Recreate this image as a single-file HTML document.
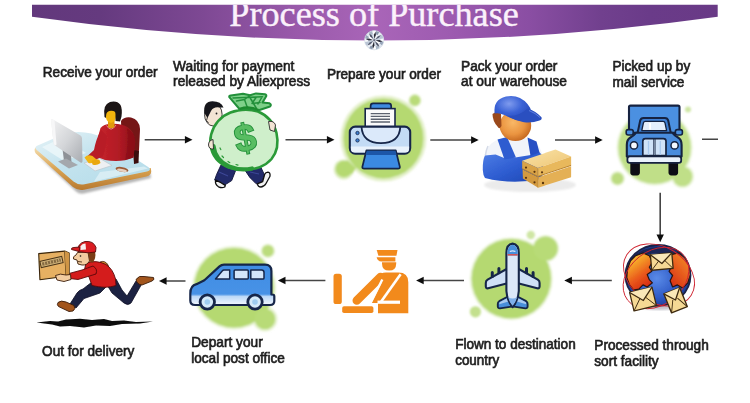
<!DOCTYPE html>
<html><head><meta charset="utf-8"><title>Process of Purchase</title>
<style>
html,body{margin:0;padding:0;background:#fff;}
body{width:750px;height:403px;overflow:hidden;position:relative;}
svg{position:absolute;left:0;top:0;display:block;}
.lbl{font-family:"Liberation Sans",Arial,sans-serif;font-size:15px;fill:#1f1f1f;stroke:#1f1f1f;stroke-width:.7px;}
.ttl{font-family:"Liberation Serif","Times New Roman",serif;font-size:36.500px;fill:#fbf1fb;stroke:#fbf1fb;stroke-width:.4px;}
.ar{stroke:#454545;stroke-width:1.6;fill:none;}
.ah{fill:#111;stroke:none;}
</style></head>
<body>
<svg width="750" height="403" viewBox="0 0 750 403">
<defs>
<linearGradient id="ban" x1="0" y1="0" x2="1" y2="0">
<stop offset="0" stop-color="#62387c"/><stop offset="0.1" stop-color="#653a7f"/><stop offset="0.245" stop-color="#7d4893"/><stop offset="0.39" stop-color="#9a5aab"/><stop offset="0.5" stop-color="#a965b8"/><stop offset="0.61" stop-color="#9d5bb0"/><stop offset="0.725" stop-color="#8a4ea3"/><stop offset="0.83" stop-color="#71408e"/><stop offset="0.9" stop-color="#6a3b89"/><stop offset="1" stop-color="#693a86"/>
</linearGradient>
<clipPath id="banclip"><path d="M32 4.7H717.7V16.7Q375 64.3 32 16.7Z"/></clipPath>
<filter id="soft" x="-10%" y="-10%" width="120%" height="120%"><feGaussianBlur stdDeviation="0.9"/></filter>
<filter id="tb" x="-2%" y="-20%" width="104%" height="140%"><feGaussianBlur stdDeviation="0.4"/></filter>
</defs>
<rect width="750" height="403" fill="#ffffff"/>
<!-- BANNER -->
<g id="banner">
<path d="M32 4.7H717.7V16.7Q375 64.3 32 16.7Z" fill="url(#ban)"/>
<g clip-path="url(#banclip)"><text class="ttl" x="229.300" y="25.700" textLength="289.500" lengthAdjust="spacingAndGlyphs">Process of Purchase</text></g>
</g>
<!-- LABELS -->
<g id="labels" filter="url(#tb)">
<text class="lbl" x="42.800" y="77.200" textLength="114.7" lengthAdjust="spacingAndGlyphs">Receive your order</text>
<text class="lbl" x="173.1" y="70.5" textLength="121.3" lengthAdjust="spacingAndGlyphs">Waiting for payment</text>
<text class="lbl" x="173.100" y="86.400" textLength="137" lengthAdjust="spacingAndGlyphs">released by Aliexpress</text>
<text class="lbl" x="326.900" y="78.600" textLength="114.1" lengthAdjust="spacingAndGlyphs">Prepare your order</text>
<text class="lbl" x="461.100" y="70.800" textLength="96.300" lengthAdjust="spacingAndGlyphs">Pack your order</text>
<text class="lbl" x="461.100" y="86.300" textLength="105.900" lengthAdjust="spacingAndGlyphs">at our warehouse</text>
<text class="lbl" x="612.400" y="71" textLength="77.800" lengthAdjust="spacingAndGlyphs">Picked up by</text>
<text class="lbl" x="612.400" y="86.600" textLength="71.900" lengthAdjust="spacingAndGlyphs">mail service</text>
<text class="lbl" x="42.100" y="355.600" textLength="92.3" lengthAdjust="spacingAndGlyphs">Out for delivery</text>
<text class="lbl" x="191.2" y="347.3" textLength="71.5" lengthAdjust="spacingAndGlyphs">Depart your</text>
<text class="lbl" x="191.2" y="363.2" textLength="93.6" lengthAdjust="spacingAndGlyphs">local post office</text>
<text class="lbl" x="455.200" y="348.900" textLength="120.500" lengthAdjust="spacingAndGlyphs">Flown to destination</text>
<text class="lbl" x="455.200" y="365.100" textLength="44" lengthAdjust="spacingAndGlyphs">country</text>
<text class="lbl" x="594.300" y="349.800" textLength="114.5" lengthAdjust="spacingAndGlyphs">Processed through</text>
<text class="lbl" x="594.300" y="365.800" textLength="64.4" lengthAdjust="spacingAndGlyphs">sort facility</text>
</g>
<filter id="ib" x="0" y="0" width="750" height="403" filterUnits="userSpaceOnUse"><feGaussianBlur stdDeviation="0.45"/></filter>
<g id="gfx" filter="url(#ib)">
<!-- ARROWS -->
<g id="arrows">
<path class="ar" d="M144.7 139.7H186M285.5 139.7H328M430.3 140H472M555 140H596M702 139.3H718M660.2 192.7V236M611.8 280.5H571M464 280.5H423M325.4 280.5H285M185.5 281H166"/>
<path class="ah" d="M192.5 139.7l-7.6-3.7v7.4zM334.5 139.7l-7.6-3.7v7.4zM478.7 140l-7.6-3.7v7.4zM602.7 140l-7.6-3.7v7.4zM660.2 242.2l-3.7-7.6h7.4zM564.3 280.5l7.6-3.7v7.4zM416.1 280.5l7.6-3.7v7.4zM277.9 280.5l7.6-3.7v7.4zM159 281l7.6-3.7v7.4z"/>
</g>
<!-- ICONS -->
<g id="ic1">
<defs>
<linearGradient id="desk1" x1="0" y1="0" x2="1" y2="1"><stop offset="0" stop-color="#e6f3f7"/><stop offset="0.45" stop-color="#c3e3ee"/><stop offset="1" stop-color="#b3dbe9"/></linearGradient>
<linearGradient id="edge1" x1="0" y1="0" x2="0" y2="1"><stop offset="0" stop-color="#f3dcae"/><stop offset="0.5" stop-color="#d9a352"/><stop offset="1" stop-color="#b87a30"/></linearGradient>
<linearGradient id="mon1" x1="0" y1="0" x2="1" y2="1"><stop offset="0" stop-color="#f2f2f3"/><stop offset="0.5" stop-color="#d4d6d9"/><stop offset="1" stop-color="#a8abb0"/></linearGradient>
<linearGradient id="sw1" x1="0" y1="0" x2="1" y2="0"><stop offset="0" stop-color="#c8242c"/><stop offset="0.6" stop-color="#b01a24"/><stop offset="1" stop-color="#8a1018"/></linearGradient>
</defs>
<!-- shadow -->
<path d="M38 156L76 191.500Q80 195 86 193L151 178L150 172L82 188Z" fill="#b5b5b5" filter="url(#soft)"/>
<!-- desk edge -->
<path d="M35.500 147.500Q33.500 150 35.800 153.500L73 187Q78 191 84 189.700L146.500 176.500Q151.500 175 151.200 171L150.800 168L80 182L35.500 147.500Z" fill="url(#edge1)"/>
<!-- desk top -->
<path d="M36.500 146Q34.300 147.800 36.800 150L73.500 181.500Q78.500 185.500 84.500 184.200L147 171.500Q152 170 148.500 167.200L104 138Q84 128.500 64 134Z" fill="url(#desk1)"/>
<path d="M42 147L62 138L86 153L64 161Z" fill="#eef7fa" opacity=".8"/>
<path d="M100 172L144 166.500L148 168.500L94 181.500Z" fill="#daeef5" opacity=".9"/>
<!-- chair -->
<path d="M121 121Q124 116.500 131 117.500Q139.500 119.500 140 129L139 150Q138.500 156 133 155.500L122 155Z" fill="#741418"/>
<path d="M133 150L139 151L138.500 163L134 164Z" fill="#3a0d10"/>
<!-- monitor stand -->
<path d="M62.500 149L71 153L71.500 164L64 161Z" fill="#8e9297"/>
<path d="M58 161.500L66 158.500L78 165L69 168.500Z" fill="#a4a8ad"/>
<!-- monitor -->
<path d="M51 120.500Q50.500 118.500 53 119.500L80.500 135.500Q82 136.500 82 138.500L82.500 161Q82.500 163.500 80.500 162.500L55 145.500Q53.500 144.500 53.500 142.500Z" fill="url(#mon1)"/>
<path d="M51 120.500Q50.500 118.500 53 119.500L54.500 120.500L56.500 144.500L55 145.500Q53.500 144.500 53.500 142.500Z" fill="#f7f7f8"/>
<!-- keyboard -->
<path d="M84 163L100 158.500L112 165.500L95 171Z" fill="#eef0f2" stroke="#b9c3ca" stroke-width=".6"/>
<!-- body -->
<path d="M100.500 128Q104 124 110 124Q121 123 128 127.500Q135 132 135.200 142L133.500 157.500Q121 163 105 160L96 156.500Q96 142 100.500 128Z" fill="url(#sw1)"/>
<path d="M101 130Q96 139 94 150L87 156.500L91.500 162L103 156Q106 146 107 136Z" fill="#b81c26"/>
<path d="M127 128Q134.500 133 135.200 142L133.500 157.500L125 160Q128.500 145 127 128Z" fill="#8a1018" opacity=".7"/>
<path d="M106.500 125.500Q111 133 116 125" stroke="#e9a0a0" stroke-width=".8" fill="none"/>
<!-- hands -->
<path d="M84.500 157.500Q87.500 154 92.500 156L96.500 159.500Q93.500 164 88.500 163Z" fill="#f0b414"/>
<path d="M91.500 161Q95.500 158 99.500 160L100.500 163Q96.500 166 92.500 164.500Z" fill="#eaa70e"/>
<!-- neck, face -->
<path d="M108 120H114.500V127Q111 129.500 108 127Z" fill="#e09a08"/>
<path d="M105.500 112Q105.500 108.200 110.800 108.200Q116 108.200 116 113V117Q115 122.500 111 122.800Q107 122.500 105.900 117.500Z" fill="#f2b50f"/>
<!-- hair -->
<path d="M104.500 117Q102.500 104.500 110 102Q117 100.200 120.500 105Q122.500 109 121.500 116.500L120 121.500L115.500 121V114Q115.500 110.500 111 110.800Q107 111 106.300 114L105.800 118Z" fill="#1a1212"/>
<!-- mouse -->
<ellipse cx="122" cy="169.500" rx="6.500" ry="2.400" fill="#9c5a34" transform="rotate(10 122 169.500)"/>
<ellipse cx="122" cy="170.300" rx="5" ry="1.400" fill="#e6d0c0" transform="rotate(10 122 170.300)"/>
</g>
<g id="ic2">
<!-- legs -->
<path d="M221 165L236 169.500L231.700 180.600L223.500 185.800L214.600 180.100L216.700 174.200Z" fill="#232a6a" stroke="#12153a" stroke-width=".9" stroke-linejoin="round"/>
<path d="M244.500 169.500L260.500 166.500L264.700 175.300L261.500 182.700L256.200 183.800L249.800 177.400Z" fill="#232a6a" stroke="#12153a" stroke-width=".9" stroke-linejoin="round"/>
<path d="M219 172L228 176M250 172L259 174" stroke="#3c4796" stroke-width="1.200"/>
<path d="M215.700 180.100Q214.500 184 218.500 186.800Q222 188.300 224.700 187L225.300 185.400L221 182.700Z" fill="#f2f2f2" stroke="#111" stroke-width="1.300" stroke-linejoin="round"/>
<path d="M257.300 183.800Q258 187 261 187Q264.500 186.500 266 183.500L270 176.300Q270.500 172.500 268 172.200Q265.500 172.500 264.700 174.200L262.600 181.700Z" fill="#f2f2f2" stroke="#111" stroke-width="1.300" stroke-linejoin="round"/>
<!-- head -->
<ellipse cx="213.300" cy="114.500" rx="8.800" ry="11.500" fill="#f3e4d4" stroke="#2a2a2a" stroke-width=".9"/>
<path d="M204.300 113Q203 101.500 212.500 101.200Q221 101.200 223.500 107.500L219.500 107.500Q213.500 106.500 211 111L207.500 118Z" fill="#17171a"/>
<circle cx="216.500" cy="113.500" r=".9" fill="#222"/>
<path d="M207.500 117Q205 121 208.500 123" stroke="#333" stroke-width=".9" fill="none"/>
<!-- bag -->
<path d="M238 110.500Q222 113 214 127Q206.500 142 214 155.500Q222 169 243 169.800Q262 170 271.500 159Q280 148.500 276.500 133Q272.500 117.500 258 111.500Q248 108.500 238 110.500Z" fill="#cfefcb" stroke="#2c9a39" stroke-width="2.600" stroke-linejoin="round"/>
<path d="M213.500 146Q215 160 229 166.500Q240 171 252 168.500" stroke="#2c9a39" stroke-width="4.200" fill="none" stroke-linecap="round"/>
<path d="M222 156l1.500 1.500M228 161.500l1.800 1.200M236 164.500l2 .6M220 148l.8 1.600" stroke="#2c9a39" stroke-width="1.200" stroke-linecap="round"/>
<!-- ruffles -->
<path d="M239.500 109L229.300 97.200Q228.800 95.700 230.800 95.400L243 93.700L250 95.300L256 93.400L265 94.300Q266.800 94.700 266.200 96.300L262.500 102.600L269.500 103.300Q272 104.900 270 106.500L258 110.500Q248 107.600 239.500 109Z" fill="#7fd08a" stroke="#23903a" stroke-width="2" stroke-linejoin="round"/>
<path d="M233 98L262.500 96.800M236.500 101L244.500 99.500L247.500 108M244.500 99.500L250 95.500M250.500 98.500L256.500 108.500M256 97.500L252 103.500L260 102.500M262 97L258 104" stroke="#23903a" stroke-width="1.500" fill="none" stroke-linecap="round" stroke-linejoin="round"/>
<path d="M240 108.800Q249 105.500 258.500 110" stroke="#1f8a2e" stroke-width="2.400" fill="none"/>
<!-- hands -->
<path d="M268.500 121.500Q274 120.500 275.500 125L274.500 131.500L270 130Z" fill="#f3e4d4" stroke="#2a2a2a" stroke-width=".9"/>
<path d="M213 139.500Q208.500 140.500 208.500 145Q209 149.500 213.500 149Z" fill="#f3e4d4" stroke="#2a2a2a" stroke-width=".9"/>
<!-- dollar -->
<text x="245.200" y="151" text-anchor="middle" transform="rotate(-11 245.200 138.200)" style="font-family:'Liberation Sans',Arial,sans-serif;font-weight:bold;font-size:38px;fill:#58bd62;stroke:#23903a;stroke-width:1.800px;paint-order:stroke;">$</text>
</g>
<g id="ic3">
<g filter="url(#soft)">
<circle cx="383.4" cy="138.4" r="43" fill="#e3f0c9"/>
<circle cx="343.7" cy="169.4" r="10" fill="#dcedbd"/>
<circle cx="383.4" cy="138.4" r="40" fill="#b5d971"/>
<circle cx="344" cy="169" r="8.3" fill="#b5d971"/>
<path d="M347 160L356 168L352 174L344 170Z" fill="#b5d971"/>
<circle cx="414.9" cy="100.4" r="6.3" fill="#dcedbd"/>
<circle cx="414.9" cy="100.4" r="5.2" fill="#b9db78"/>
</g>
<!-- feeder -->
<rect x="370.600" y="103.400" width="20.600" height="10" rx="2.600" fill="#3d8ae0" stroke="#18274a" stroke-width="1.700"/>
<!-- paper -->
<rect x="365.200" y="108.600" width="29.800" height="20" fill="#fbfbfb" stroke="#18274a" stroke-width="1.600"/>
<path d="M370.700 113.600H390M370.700 116.400H390M370.700 119.200H390M370.700 122H390" stroke="#5d6470" stroke-width="1.400"/>
<!-- body -->
<rect x="349.800" y="126.600" width="60.400" height="27" rx="5.500" fill="#c3dbf5" stroke="#18274a" stroke-width="2.100"/>
<path d="M350.900 146.500H409.100V149Q409.100 152.500 405.500 152.500H354.500Q350.900 152.500 350.900 149Z" fill="#e9f2fc"/>
<path d="M361.500 126.800Q362.500 143.200 381 143.200Q399.500 143.200 400.300 126.800Z" fill="#dbe9fa" stroke="#18274a" stroke-width="1.800"/>
<circle cx="357.500" cy="133" r="1.700" fill="#3d7fd0" stroke="#18274a" stroke-width=".8"/>
<circle cx="357.500" cy="140.400" r="1.700" fill="#3d7fd0" stroke="#18274a" stroke-width=".8"/>
<!-- tray -->
<path d="M366.400 150.400H395.800L399.800 166.600Q400.200 168.600 398 168.600H364.200Q362 168.600 362.400 166.600Z" fill="#3a8ae2" stroke="#18274a" stroke-width="1.800" stroke-linejoin="round"/>
<path d="M366.800 150.800H395.400L396.500 155H365.700Z" fill="#1f57a8"/>
</g>
<g id="ic4">
<defs>
<radialGradient id="face4" cx="0.42" cy="0.4" r="0.7"><stop offset="0" stop-color="#f9b867"/><stop offset="0.55" stop-color="#ea9440"/><stop offset="1" stop-color="#b95a17"/></radialGradient>
<radialGradient id="cap4" cx="0.4" cy="0.3" r="0.8"><stop offset="0" stop-color="#7f9bee"/><stop offset="0.45" stop-color="#3a62d6"/><stop offset="1" stop-color="#1f3fae"/></radialGradient>
<linearGradient id="body4" x1="0" y1="0" x2="1" y2="1"><stop offset="0" stop-color="#4f7fe6"/><stop offset="0.5" stop-color="#2f5ed2"/><stop offset="1" stop-color="#1d44b0"/></linearGradient>
<linearGradient id="boxt" x1="0" y1="0" x2="1" y2="1"><stop offset="0" stop-color="#f9e3a8"/><stop offset="1" stop-color="#eec574"/></linearGradient>
</defs>
<ellipse cx="530" cy="185" rx="46" ry="7" fill="#ebebeb" filter="url(#soft)"/>
<!-- body -->
<path d="M483 172Q481.500 152 492 143Q500 137 513 137.500Q528 136.500 536.500 143Q543.500 150 543 166L542 179Q512 185 485 178Z" fill="#f1f4fa"/>
<path d="M482.800 170Q482.500 160 485 155.500L495.600 154.500L504.700 158.200L515.200 157.400L530.800 155.100L538.600 151.500L543 156Q543.500 166 542 179Q512 185 485 178Q483 175 482.800 170Z" fill="url(#body4)"/>
<path d="M497.500 139.500L507 137L516 157.500L504.500 159.500Z" fill="#2d5bd0"/>
<path d="M527.500 137.500L536.500 141.500L539.500 152.500L530.500 156Z" fill="#2650c4"/>
<path d="M488 146Q486 150 485.500 155" stroke="#d5dbe8" stroke-width="1.500" fill="none"/>
<!-- face -->
<ellipse cx="515.400" cy="125.600" rx="15.800" ry="15.400" fill="url(#face4)"/>
<!-- hair -->
<path d="M492.500 114Q496 111 501 113.500L501.500 126Q499.500 130 497.500 126.500Q492.500 121 492.500 114Z" fill="#9a4a1e"/>
<!-- cap -->
<path d="M494.600 113.500Q493 99.500 506 96.500Q519 94 527.500 104Q530.500 107.500 531 111L527 122Q515 120.600 504.300 115Q499 112.600 494.600 113.500Z" fill="url(#cap4)"/>
<path d="M527.500 108.500Q536 111.300 541.500 117.200Q542.400 119.600 539.500 120.600Q532 123.200 524 122.200Q515 120.600 506 115.500Q518 117.500 527.500 108.500Z" fill="#2a4fc0"/>
<path d="M529 110.500Q535.500 113 540 117.500" stroke="#5f80e0" stroke-width="1" fill="none"/>
<!-- boxes -->
<path d="M522.200 160.800L555.500 149.400L571.100 156.400L537.800 168.100Z" fill="url(#boxt)"/>
<path d="M522.200 160.800L537.800 168.100V176.400L522.200 168.600Z" fill="#d9a347"/>
<path d="M537.800 168.100L571.100 156.400V165.400L537.800 176.400Z" fill="#e8b85c"/>
<path d="M522.600 169.400L538.200 177.200V187.700L522.900 178.500Z" fill="#d39a3f"/>
<path d="M538.200 177.200L571.100 166.200V177.200L538.200 187.700Z" fill="#e4b055"/>
<path d="M522.200 168.600L537.800 176.400L571.100 165.400" stroke="#b98432" stroke-width="1" fill="none"/>
<path d="M537.900 168.500V187.500" stroke="#c08c38" stroke-width=".8"/>
<g fill="#5a3510"><circle cx="526" cy="167.600" r="1.100"/><circle cx="534.500" cy="171.800" r="1.100"/><circle cx="542" cy="172.300" r="1.100"/><circle cx="526" cy="177.800" r="1.100"/><circle cx="534.500" cy="182.300" r="1.100"/><circle cx="543" cy="183" r="1.200"/></g>

</g>
<g id="ic5">
<g filter="url(#soft)">
<circle cx="654.600" cy="147.500" r="38" fill="#e9f4d6"/>
<circle cx="682.500" cy="176.500" r="11.500" fill="#e9f4d6"/>
<circle cx="654.600" cy="147.500" r="36.200" fill="#c0df88"/>
<circle cx="682.500" cy="176.500" r="9.800" fill="#c0df88"/>
<circle cx="617.500" cy="178.500" r="7.200" fill="#e0efc4"/>
<circle cx="617.500" cy="178.500" r="5.800" fill="#bcdc80"/>
<circle cx="688" cy="109.400" r="3" fill="#cfe6a4"/>
</g>
<!-- box -->
<rect x="629" y="105.600" width="50.500" height="28" rx="1.500" fill="#4b90e1" stroke="#14223f" stroke-width="2.100"/>
<!-- cab -->
<path d="M643.600 117.900H664.800Q667.600 117.900 668.200 120.500L670.800 133H637.600L640.200 120.500Q640.800 117.900 643.600 117.900Z" fill="#3f7fd2" stroke="#14223f" stroke-width="2" stroke-linejoin="round"/>
<path d="M645.400 121.400H663Q664.600 121.400 665 122.900L666.600 130.600H641.800L643.400 122.900Q643.800 121.400 645.400 121.400Z" fill="#e4eefb" stroke="#14223f" stroke-width="1.300" stroke-linejoin="round"/>
<path d="M650 123V129.500" stroke="#fff" stroke-width="2"/>
<!-- mirrors -->
<rect x="626.200" y="129.600" width="7" height="5.400" rx="2" fill="#4b90e1" stroke="#14223f" stroke-width="1.600"/>
<rect x="675.400" y="129.600" width="7" height="5.400" rx="2" fill="#4b90e1" stroke="#14223f" stroke-width="1.600"/>
<path d="M633 132.500H638M675.500 132.500H670.500" stroke="#14223f" stroke-width="1.600"/>
<!-- hood -->
<path d="M636 132.800H672.400Q675 136 678 137.500Q681.600 139.500 681.600 145V156.500H626.800V145Q626.800 139.500 630.400 137.500Q633.400 136 636 132.800Z" fill="#4a8cdd" stroke="#14223f" stroke-width="2.100" stroke-linejoin="round"/>
<path d="M645.400 138.700H663.400Q666 138.700 666 141.300V155.500H642.800V141.300Q642.800 138.700 645.400 138.700Z" fill="#cfe2f8" stroke="#14223f" stroke-width="1.700" stroke-linejoin="round"/>
<path d="M654.400 138.700V155.500" stroke="#14223f" stroke-width="2.200"/>
<path d="M654.400 139.500V155" stroke="#cfe2f8" stroke-width=".6"/>
<path d="M648.500 141V155M660.300 141V155" stroke="#a9c9ee" stroke-width="1.300"/>
<circle cx="634" cy="145.400" r="3.600" fill="#f4f9ff" stroke="#14223f" stroke-width="1.500"/>
<circle cx="674.600" cy="145.400" r="3.600" fill="#f4f9ff" stroke="#14223f" stroke-width="1.500"/>
<!-- wheels -->
<rect x="630.300" y="160" width="9.600" height="15.400" rx="2.800" fill="#0e0f14"/>
<rect x="668.500" y="160" width="9.600" height="15.400" rx="2.800" fill="#0e0f14"/>
<!-- bumper -->
<rect x="627.400" y="156.400" width="53.800" height="6.400" rx="2.400" fill="#eaf2fc" stroke="#14223f" stroke-width="1.800"/>
</g>
<g id="ic6">
<defs>
<radialGradient id="oc6" cx="0.48" cy="0.55" r="0.6"><stop offset="0" stop-color="#5a8ae8"/><stop offset="0.55" stop-color="#2c58c4"/><stop offset="1" stop-color="#182a70"/></radialGradient>
<linearGradient id="ld6" x1="0" y1="0" x2="0.5" y2="1"><stop offset="0" stop-color="#fad040"/><stop offset="0.35" stop-color="#f5a028"/><stop offset="0.7" stop-color="#ea5a1c"/><stop offset="1" stop-color="#d83212"/></linearGradient>
<linearGradient id="ld6b" x1="1" y1="0" x2="0.3" y2="1"><stop offset="0" stop-color="#f29a2a"/><stop offset="0.5" stop-color="#ea6420"/><stop offset="1" stop-color="#d83414"/></linearGradient>
<clipPath id="gc6"><ellipse cx="658" cy="275.300" rx="32" ry="30"/></clipPath>
</defs>
<ellipse cx="659.600" cy="306" rx="19" ry="4" fill="#c4c4cc" filter="url(#soft)"/>
<ellipse cx="658" cy="275.300" rx="32.500" ry="30.500" fill="url(#oc6)" stroke="#1b2448" stroke-width="1.800"/>
<g clip-path="url(#gc6)">
<path d="M636 252Q658 238 682 252Q670 246 658 246Q646 246 636 252Z" fill="#141c44"/>
<path d="M630 258Q658 236 686 258L682 262Q658 244 634 262Z" fill="#1a2656"/>
<path d="M627.4 269.3L630.5 260.9L635.7 255.7L643.0 253.0L649.3 255.7L652.4 262.0L649.3 267.2L651.8 271.3L647.2 274.5L649.3 279.7L652.4 282.8L647.2 287.0L643.0 284.9L638.8 289.1L633.6 290.1L629.5 284.9L626.8 277.6Z" fill="url(#ld6)" stroke="#2a1410" stroke-width="1.200" stroke-linejoin="round"/>
<path d="M671.1 254.7L678.4 253.0L684.7 257.8L689.3 265.1L690.5 274.5L687.8 282.8L682.6 288.0L677.4 284.9L672.6 287.0L670.1 280.7L672.6 275.5L669.1 271.3L671.8 266.1L669.7 260.9Z" fill="url(#ld6b)" stroke="#2a1410" stroke-width="1.200" stroke-linejoin="round"/>
</g>
<!-- orbits -->
<g fill="none" stroke="#cf2430" stroke-width=".9">
<ellipse cx="659" cy="275" rx="38" ry="28" transform="rotate(32 659 275)"/>
<ellipse cx="656" cy="278" rx="36" ry="27" transform="rotate(-38 656 278)"/>
</g>
<!-- envelopes -->
<g stroke="#3e2a10" stroke-width="1.300" stroke-linejoin="round">
<g transform="rotate(-5 661.700 261.500)"><rect x="651" y="253.800" width="21.500" height="15.600" fill="#f5d994"/><path d="M651 253.800L661.700 263.500L672.500 253.800" fill="#fae8b8"/><path d="M651 269.400L658.500 261M672.500 269.400L665 261" fill="none" stroke-width=".9"/></g>
<g transform="rotate(-13.500 643 299)"><rect x="631.500" y="289.500" width="23" height="19" fill="#f5d994"/><path d="M631.500 289.500L643 300.500L654.500 289.500" fill="#fae8b8"/><path d="M631.500 308.500L640 298M654.500 308.500L646 298" fill="none" stroke-width=".9"/></g>
<g transform="rotate(-22 675.500 300)"><rect x="667" y="290" width="17" height="20.500" fill="#f5d994"/><path d="M667 290L675.500 300L684 290" fill="#fae8b8"/><path d="M667 310.500L673 299M684 310.500L678 299" fill="none" stroke-width=".9"/></g>
</g>
</g>
<g id="ic7">
<g filter="url(#soft)">
<circle cx="511.300" cy="278.700" r="41.300" fill="#e6f2d0"/>
<circle cx="545.600" cy="248.600" r="13.400" fill="#e6f2d0"/>
<circle cx="511.3" cy="278.7" r="39.6" fill="#b5d971"/>
<circle cx="545.6" cy="248.6" r="12" fill="#b8db77"/>
<circle cx="530.8" cy="235" r="4.2" fill="#cfe6a4"/>
<circle cx="475.4" cy="311.8" r="5.6" fill="#c3e08d"/>
</g>
<!-- wings -->
<path d="M507.500 268.500L487.600 279.600Q485.700 280.800 485.800 283V286.500Q486 288.800 488.200 288.200L507.500 283.200Z" fill="#cfe0f6" stroke="#18274a" stroke-width="2.100" stroke-linejoin="round"/>
<path d="M517.900 268.500L537.800 279.600Q539.700 280.800 539.600 283V286.500Q539.400 288.800 537.200 288.200L517.900 283.200Z" fill="#cfe0f6" stroke="#18274a" stroke-width="2.100" stroke-linejoin="round"/>
<path d="M492.300 276.500V272.500M498.900 272.800V268.500M533.100 276.500V272.500M526.500 272.800V268.500" stroke="#18274a" stroke-width="3" stroke-linecap="round"/>
<!-- tail -->
<path d="M509 296L499.200 301.200Q497.700 302.100 497.800 303.900V306.500Q498 308.500 499.900 308.400L511.500 306.600Z" fill="#4a8fdb" stroke="#18274a" stroke-width="1.900" stroke-linejoin="round"/>
<path d="M516.400 296L526.200 301.200Q527.700 302.100 527.600 303.900V306.500Q527.400 308.500 525.500 308.400L513.900 306.600Z" fill="#4a8fdb" stroke="#18274a" stroke-width="1.900" stroke-linejoin="round"/>
<path d="M508.500 297.500L499.600 302.200L499.200 304.200L508.500 301.500Z M516.900 297.500L525.800 302.200L526.200 304.200L516.900 301.500Z" fill="#a9c9ef"/>
<!-- fuselage -->
<path d="M512.600 243.600Q518.800 244.400 518.800 253V291Q518 301 512.600 307.200Q507.200 301 506.400 291V253Q506.400 244.400 512.600 243.600Z" fill="#dce8f8" stroke="#18274a" stroke-width="2.100" stroke-linejoin="round"/>
<path d="M512.600 244.800Q517.600 245.600 517.700 253V255.400H507.500V253Q507.600 245.600 512.600 244.800Z" fill="#4a8fdb"/>
<path d="M507.500 254.800H517.700" stroke="#d8534f" stroke-width="1.500"/>
<path d="M509.800 251.600Q512.600 250 515.400 251.600" stroke="#dce8f8" stroke-width="1.200" fill="none"/>
<path d="M508 297Q509.500 302.500 512.600 305.800Q515.700 302.500 517.200 297Q512.600 300 508 297Z" fill="#7fb0ea"/>
</g>
<g id="ic8" fill="#f28a1f">
<rect x="333.500" y="273.800" width="8.300" height="30.200" rx="2.600"/>
<rect x="342.200" y="306.300" width="31.200" height="6.700" rx="1.800"/>
<!-- cap -->
<path d="M376.700 250H397.500L396.400 255.700H378.400Z"/>
<path d="M376.600 257.200H395.400V261.600H381.500Q377.400 261 376.600 257.200Z"/>
<!-- head -->
<path d="M382 262.200H396.200V263.500Q396.200 270.600 389.100 270.600Q382 270.600 382 263.500Z"/>
<!-- torso -->
<path d="M378 278Q380 272.600 386 272.600H398.500Q408.300 272.600 408.300 282.300V313.300H378V303H371.500L381.500 283Z"/>
<!-- arm -->
<path d="M380.500 277L356.800 300.500" stroke="#f28a1f" stroke-width="8.600" stroke-linecap="round" fill="none"/>
<path d="M382.300 279.500L370.300 303.500" stroke="#fff" stroke-width="2.400" fill="none"/>
<path d="M400.600 274.200L380.500 302.500" stroke="#fff" stroke-width="2.600" fill="none"/>
<path d="M377.500 302.200H400" stroke="#fff" stroke-width="3.200" fill="none"/>
</g>
<g id="ic9">
<g filter="url(#soft)">
<circle cx="234" cy="287.700" r="41.800" fill="#e6f2d0"/>
<circle cx="265" cy="319" r="12.500" fill="#e6f2d0"/>
<circle cx="234" cy="287.700" r="39.800" fill="#b5d971"/>
<circle cx="265" cy="319" r="10.300" fill="#b8db77"/>
<circle cx="267.9" cy="250.9" r="7" fill="#e0efc4"/>
<circle cx="267.9" cy="250.9" r="5.700" fill="#bbdc7c"/>
</g>
<linearGradient id="vang" gradientUnits="userSpaceOnUse" x1="0" y1="264.600" x2="0" y2="305"><stop offset="0" stop-color="#3f8de4"/><stop offset="0.73" stop-color="#4792e6"/><stop offset="0.79" stop-color="#bdd9f7"/><stop offset="1" stop-color="#f2f7fe"/></linearGradient>
<path d="M224 264.600H265Q271.400 264.600 271.400 271V294.500H272.500Q274.300 294.500 274.300 296.500V301Q274.300 305 270 305H195Q190.300 305 190.300 300.500V293.700Q190.300 285.500 196.500 284.200L204.400 280.300L219.500 266.400Q221.500 264.600 224 264.600Z" fill="url(#vang)" stroke="#16264a" stroke-width="2.200" stroke-linejoin="round"/>
<path d="M224 269.900H229.700V279.100H215.500L222.400 270.700Q223 269.900 224 269.900Z" fill="#d3e5f9" stroke="#16264a" stroke-width="1.500" stroke-linejoin="round"/>
<rect x="234.100" y="269.900" width="14.200" height="9.200" rx="1" fill="#d3e5f9" stroke="#16264a" stroke-width="1.500"/>
<path d="M250.800 269.900H261.500Q264 269.900 264 272.400V277.900Q264 279.100 262.800 279.100H250.800Z" fill="#d3e5f9" stroke="#16264a" stroke-width="1.500" stroke-linejoin="round"/>
<circle cx="207.300" cy="302" r="8.600" fill="#16264a"/>
<circle cx="207.300" cy="302" r="5.800" fill="#d5eaf8"/>
<circle cx="207.300" cy="302" r="2.800" fill="#9fcdf0"/>
<circle cx="255" cy="302" r="8.600" fill="#16264a"/>
<circle cx="255" cy="302" r="5.800" fill="#d5eaf8"/>
<circle cx="255" cy="302" r="2.800" fill="#9fcdf0"/>
</g>
<g id="ic10">
<!-- ground shadow -->
<path transform="translate(0 1)" d="M36.500 321.500L50 320L58 320.500L66 318.500L80 317.800L92 319L104 318L112 320L124 319.500L136 321L153 320.500L140 322.500L122 323L110 325L96 324.500L84 326.500L70 325L60 325.500L52 323.500L36.500 321.500Z" fill="#0c0c0c"/>
<!-- back leg -->
<path d="M104 280L116 279L122 290L127 296L136 281L142 283.500L131 303Q128 306 124 303L112 293Z" fill="#1b2142" stroke="#0c0f22" stroke-width=".8" stroke-linejoin="round"/>
<!-- back shoe -->
<path d="M136 279.500Q139 275 144 276.500L153.500 277.500Q155 279.500 152 281L142 285Q137 284.500 136 279.500Z" fill="#a2551f" stroke="#3a1c08" stroke-width=".9"/>
<!-- front leg -->
<path d="M92 282L108 285L100 293L84 298.500L76 308L70 304L77 293Q79 290 83 289Z" fill="#1b2142" stroke="#0c0f22" stroke-width=".8" stroke-linejoin="round"/>
<!-- front shoe -->
<path d="M58 302.500Q61 300 66 302L74 305.500Q76 309 73 311L69 311.500L58.500 306.500Q56.500 304.500 58 302.500Z" fill="#a2551f" stroke="#3a1c08" stroke-width=".9"/>
<!-- backpack -->
<path d="M100 262Q105 260 108 265L110 271L103 270Z" fill="#d98a28" stroke="#3a1c08" stroke-width=".8"/>
<!-- jacket -->
<path d="M86 263Q96 259.500 106 264.500Q113 269 115.500 279L116 285.500Q106 289 92 285.500L89 277L84 272Z" fill="#d41a1c" stroke="#5a0a0a" stroke-width=".9" stroke-linejoin="round"/>
<!-- arm -->
<path d="M93 266Q98 269 96 274L78 279.500L70 278.500L69 273.500L82 270Z" fill="#d41a1c" stroke="#5a0a0a" stroke-width=".9" stroke-linejoin="round"/>
<!-- box -->
<path d="M38.700 253.600L64.700 251.100L69.200 252.900V274.700L66 276.200L39.900 279.700Z" fill="#e6b062" stroke="#3a2508" stroke-width="1.100" stroke-linejoin="round"/>
<path d="M64.700 251.100L66 276.200" stroke="#3a2508" stroke-width=".9"/>
<path d="M64.700 251.100L69.200 252.900V274.700L66 276.200Z" fill="#cf9544"/>
<g transform="rotate(-13 51.500 262)"><rect x="40.300" y="258.800" width="22.400" height="6.400" fill="#d2b47a" stroke="#4a3418" stroke-width="1"/><rect x="42" y="260.300" width="19" height="3.400" fill="#6b5230" opacity=".75"/><path d="M44.500 260.300V263.700M47.500 260.300V263.700M50.500 260.300V263.700M53.500 260.300V263.700M56.500 260.300V263.700M59 260.300V263.700" stroke="#d2b47a" stroke-width=".8"/></g>
<!-- hand -->
<path d="M55.500 275.500Q60 273 66 275L70.500 274.500L71 279.500L64 281.500L57 280Z" fill="#f3cda0" stroke="#3a1c08" stroke-width=".9" stroke-linejoin="round"/>
<!-- head -->
<path d="M77.500 252.500L88 252L89.500 261Q87 265.500 82 265L78 264L77 260L73.500 259Q72.500 256.500 76 255Z" fill="#f3cda0" stroke="#3a1c08" stroke-width=".9" stroke-linejoin="round"/>
<path d="M88 252.500L95 251.500Q96.500 258 92.500 263L89.500 261Z" fill="#7a3c12"/>
<circle cx="80.500" cy="256" r=".8" fill="#111"/>
<path d="M78 261.500L82 262" stroke="#3a1c08" stroke-width=".8"/>
<!-- cap -->
<path d="M78 251.500Q77 243.500 85 241.500Q93.500 240.500 96 247.500L95.500 252L88 252.800L78 251.500Z" fill="#da1f20" stroke="#5a0a0a" stroke-width=".9" stroke-linejoin="round"/>
<path d="M79 251.500L71.500 249.500Q71 247.500 74 247.500L80 247Z" fill="#da1f20" stroke="#5a0a0a" stroke-width=".9" stroke-linejoin="round"/>
<path d="M80.500 246.500Q82 243.500 85.500 243.500L86 249.500L80.500 250Z" fill="#f6f0f0"/>
</g>
<g id="gem">
<circle cx="374.2" cy="40.2" r="9.6" fill="#e6ebf2"/>
<path d="M380.04 39.04L383.62 38.33L383.62 42.07L380.04 41.36Z" fill="#f7f9fc"/>
<path d="M380.04 41.36L383.62 42.07L382.18 45.53L379.15 43.51Z" fill="#98a6ba"/>
<path d="M379.15 43.51L382.18 45.53L379.53 48.18L377.51 45.15Z" fill="#dfe6ef"/>
<path d="M377.51 45.15L379.53 48.18L376.07 49.62L375.36 46.04Z" fill="#aab8c8"/>
<path d="M375.36 46.04L376.07 49.62L372.33 49.62L373.04 46.04Z" fill="#ffffff"/>
<path d="M373.04 46.04L372.33 49.62L368.87 48.18L370.89 45.15Z" fill="#8b98ac"/>
<path d="M370.89 45.15L368.87 48.18L366.22 45.53L369.25 43.51Z" fill="#e9eef5"/>
<path d="M369.25 43.51L366.22 45.53L364.78 42.07L368.36 41.36Z" fill="#b9c4d4"/>
<path d="M368.36 41.36L364.78 42.07L364.78 38.33L368.36 39.04Z" fill="#f7f9fc"/>
<path d="M368.36 39.04L364.78 38.33L366.22 34.87L369.25 36.89Z" fill="#98a6ba"/>
<path d="M369.25 36.89L366.22 34.87L368.87 32.22L370.89 35.25Z" fill="#dfe6ef"/>
<path d="M370.89 35.25L368.87 32.22L372.33 30.78L373.04 34.36Z" fill="#aab8c8"/>
<path d="M373.04 34.36L372.33 30.78L376.07 30.78L375.36 34.36Z" fill="#ffffff"/>
<path d="M375.36 34.36L376.07 30.78L379.53 32.22L377.51 35.25Z" fill="#8b98ac"/>
<path d="M377.51 35.25L379.53 32.22L382.18 34.87L379.15 36.89Z" fill="#e9eef5"/>
<path d="M379.15 36.89L382.18 34.87L383.62 38.33L380.04 39.04Z" fill="#b9c4d4"/>
<path d="M374.20 40.20L380.52 40.70L379.02 44.31Z" fill="#ffffff"/>
<path d="M374.20 40.20L378.31 45.02L374.70 46.52Z" fill="#d5dde8"/>
<path d="M374.20 40.20L373.70 46.52L370.09 45.02Z" fill="#f1f4f9"/>
<path d="M374.20 40.20L369.38 44.31L367.88 40.70Z" fill="#c3cedc"/>
<path d="M374.20 40.20L367.88 39.70L369.38 36.09Z" fill="#ffffff"/>
<path d="M374.20 40.20L370.09 35.38L373.70 33.88Z" fill="#d5dde8"/>
<path d="M374.20 40.20L374.70 33.88L378.31 35.38Z" fill="#f1f4f9"/>
<path d="M374.20 40.20L379.02 36.09L380.52 39.70Z" fill="#c3cedc"/>
<path d="M375.34 40.36L379.30 41.89L382.76 41.40L379.56 39.98Z" fill="#2b2d3c"/>
<path d="M374.89 41.12L376.61 44.99L379.40 47.10L378.14 43.84Z" fill="#4a4f63"/>
<path d="M374.04 41.34L372.51 45.30L373.00 48.76L374.42 45.56Z" fill="#23242f"/>
<path d="M373.28 40.89L369.41 42.61L367.30 45.40L370.56 44.14Z" fill="#5a6075"/>
<path d="M373.06 40.04L369.10 38.51L365.64 39.00L368.84 40.42Z" fill="#2b2d3c"/>
<path d="M373.51 39.28L371.79 35.41L369.00 33.30L370.26 36.56Z" fill="#4a4f63"/>
<path d="M374.36 39.06L375.89 35.10L375.40 31.64L373.98 34.84Z" fill="#23242f"/>
<path d="M375.12 39.51L378.99 37.79L381.10 35.00L377.84 36.26Z" fill="#5a6075"/>
<circle cx="374.2" cy="40.2" r="1.1" fill="#6a6e82"/>
<circle cx="374.2" cy="40.2" r="9.6" fill="none" stroke="#cfd6e2" stroke-width=".6"/>
</g>
</g>
</svg>
</body></html>
